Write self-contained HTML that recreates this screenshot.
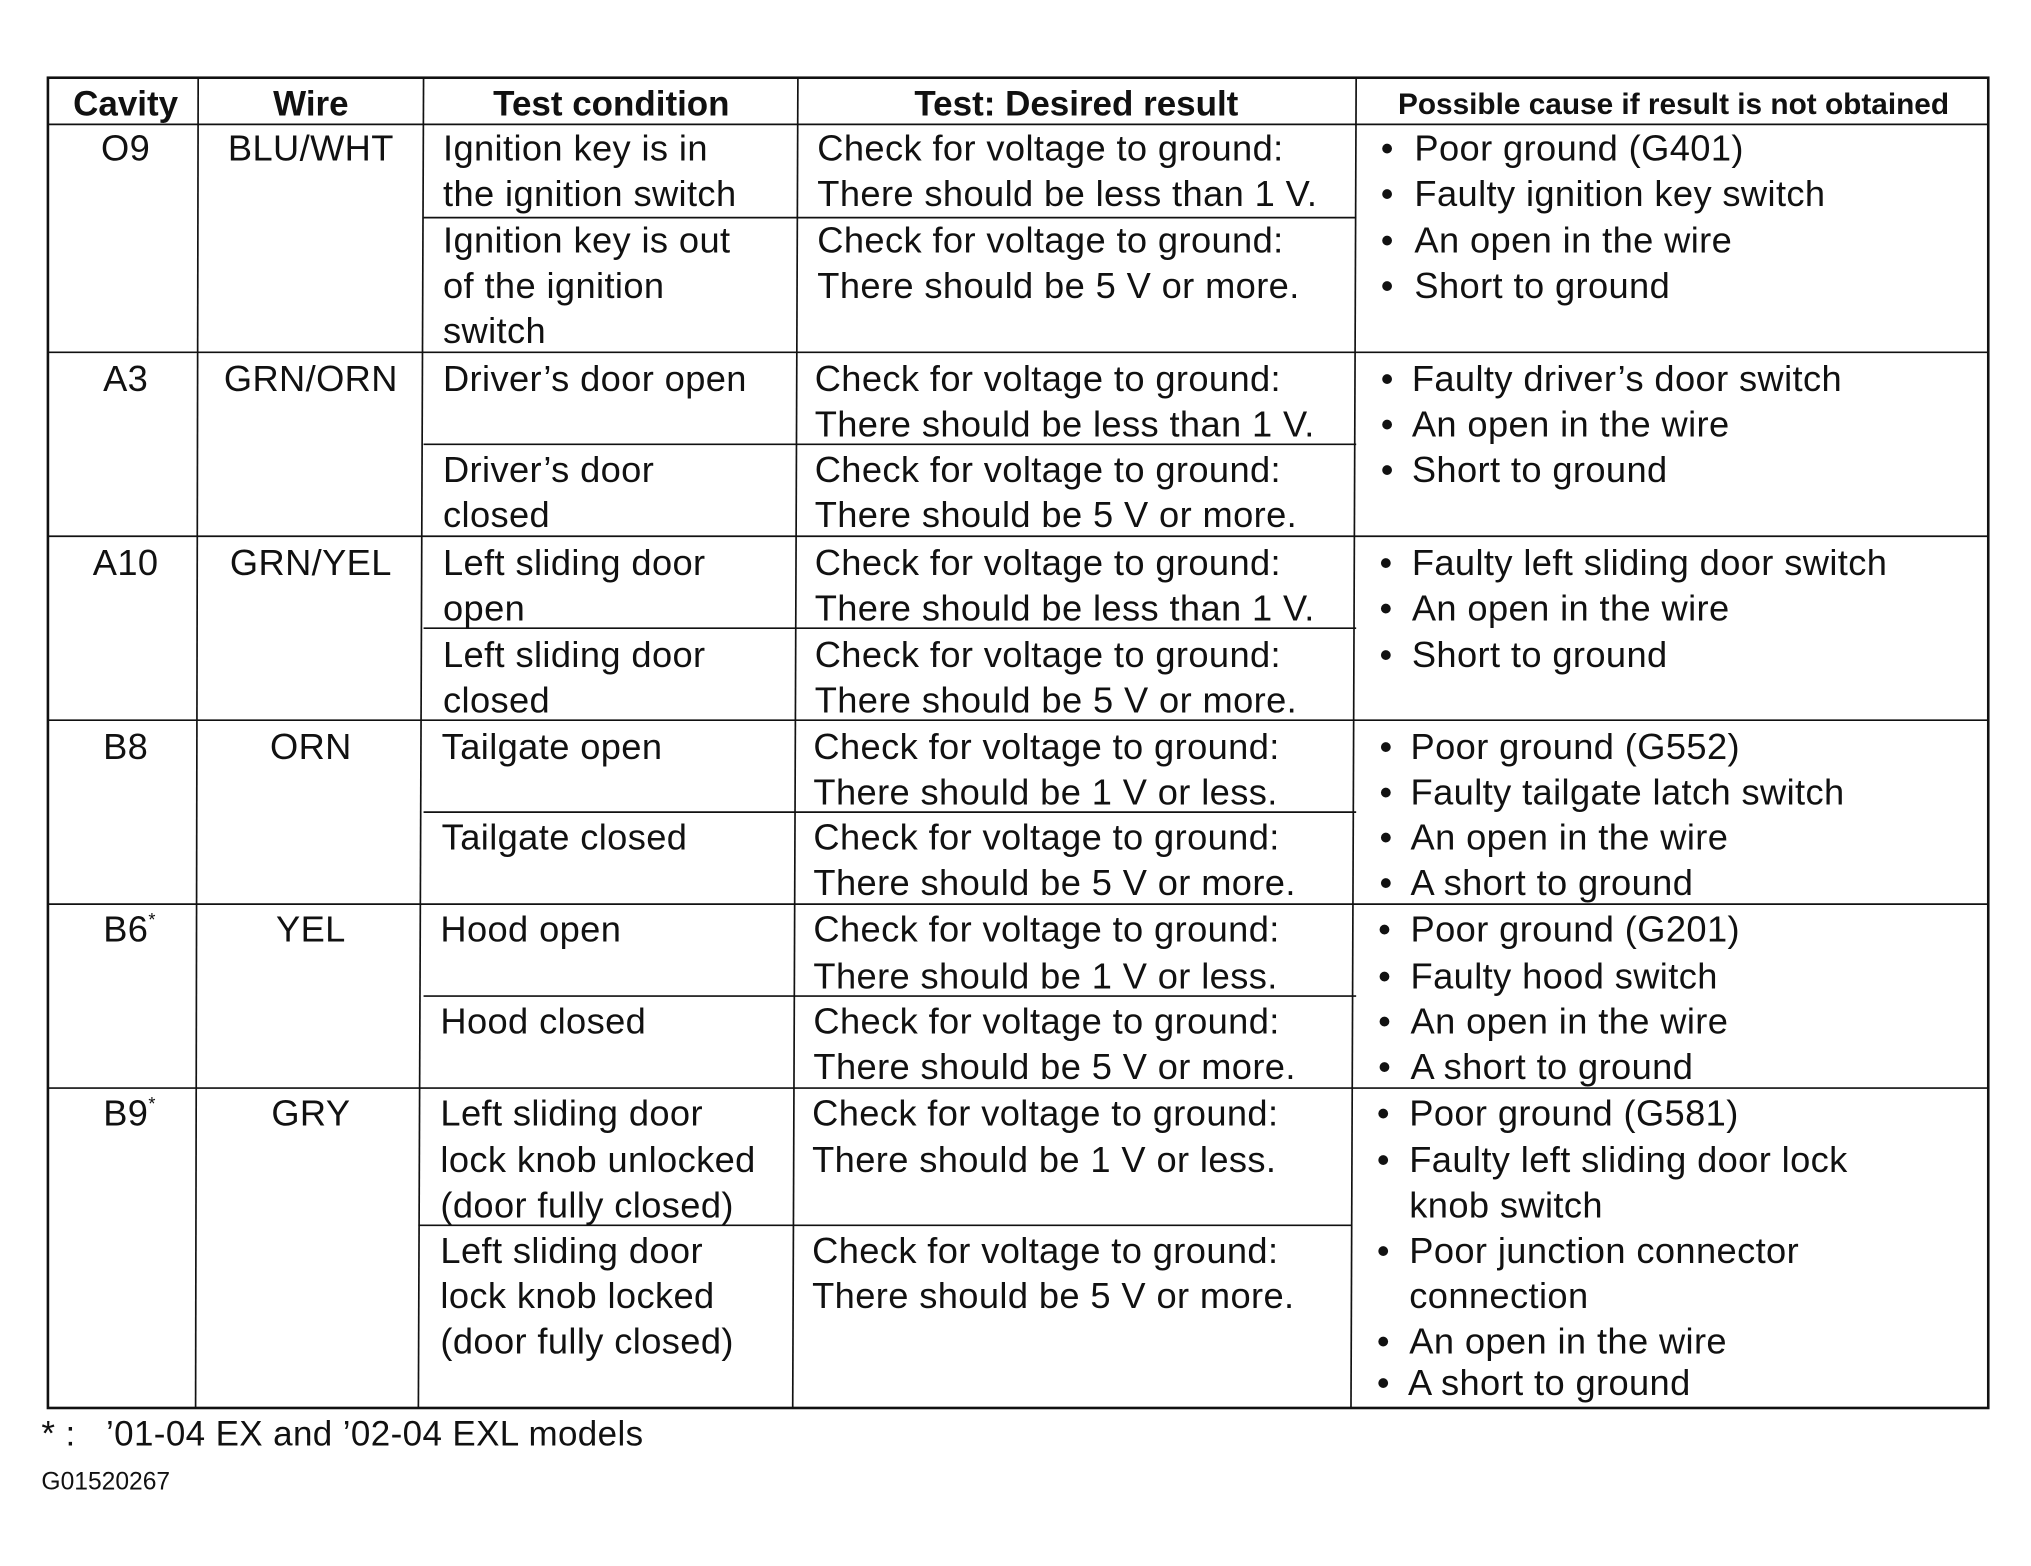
<!DOCTYPE html>
<html><head><meta charset="utf-8"><style>
html,body{margin:0;padding:0;background:#fff;width:2031px;height:1566px;overflow:hidden}
svg{display:block}
text{font-family:"Liberation Sans",sans-serif;fill:#111;font-size:28px;letter-spacing:0.3px}
.h{font-weight:bold;font-size:27px;letter-spacing:0}
.c{text-anchor:middle}
</style></head><body>
<svg width="2031" height="1566" viewBox="0 0 1568 1209" preserveAspectRatio="none">
<g stroke="#111" fill="none">
<rect x="37" y="60" width="1498" height="1027" stroke-width="2"/>
<g stroke-width="1.3">
<line x1="153" y1="60" x2="151" y2="1087"/>
<line x1="327" y1="60" x2="323" y2="1087"/>
<line x1="616" y1="60" x2="612" y2="1087"/>
<line x1="1047" y1="60" x2="1043" y2="1087"/>
<line x1="37" y1="96" x2="1535" y2="96"/>
<line x1="37" y1="272" x2="1535" y2="272"/>
<line x1="37" y1="414" x2="1535" y2="414"/>
<line x1="37" y1="556" x2="1535" y2="556"/>
<line x1="37" y1="698" x2="1535" y2="698"/>
<line x1="37" y1="840" x2="1535" y2="840"/>
<line x1="327" y1="168" x2="1047" y2="168"/>
<line x1="327" y1="343" x2="1047" y2="343"/>
<line x1="327" y1="485" x2="1047" y2="485"/>
<line x1="327" y1="627" x2="1047" y2="627"/>
<line x1="327" y1="769" x2="1047" y2="769"/>
<line x1="323" y1="946" x2="1043" y2="946"/>
</g></g>
<text class="h c" x="97" y="89">Cavity</text>
<text class="h c" x="240" y="89">Wire</text>
<text class="h c" x="472" y="89">Test condition</text>
<text class="h c" x="831" y="89">Test: Desired result</text>
<text class="h c" x="1292" y="88" style="font-size:23px">Possible cause if result is not obtained</text>

<g>
<text class="c" x="97" y="124">O9</text><text class="c" x="240" y="124">BLU/WHT</text>
<text class="c" x="97" y="302">A3</text><text class="c" x="240" y="302">GRN/ORN</text>
<text class="c" x="97" y="444">A10</text><text class="c" x="240" y="444">GRN/YEL</text>
<text class="c" x="97" y="586">B8</text><text class="c" x="240" y="586">ORN</text>
<text class="c" x="100" y="727">B6<tspan font-size="14" dy="-12">*</tspan></text><text class="c" x="240" y="727">YEL</text>
<text class="c" x="100" y="869">B9<tspan font-size="14" dy="-12">*</tspan></text><text class="c" x="240" y="869">GRY</text>
</g>

<g>
<text x="342" y="124">Ignition key is in</text>
<text x="342" y="159">the ignition switch</text>
<text x="342" y="195">Ignition key is out</text>
<text x="342" y="230">of the ignition</text>
<text x="342" y="265">switch</text>
<text x="342" y="302">Driver’s door open</text>
<text x="342" y="372">Driver’s door</text>
<text x="342" y="407">closed</text>
<text x="342" y="444">Left sliding door</text>
<text x="342" y="479">open</text>
<text x="342" y="515">Left sliding door</text>
<text x="342" y="550">closed</text>
<text x="341" y="586">Tailgate open</text>
<text x="341" y="656">Tailgate closed</text>
<text x="340" y="727">Hood open</text>
<text x="340" y="798">Hood closed</text>
<text x="340" y="869">Left sliding door</text>
<text x="340" y="905">lock knob unlocked</text>
<text x="340" y="940">(door fully closed)</text>
<text x="340" y="975">Left sliding door</text>
<text x="340" y="1010">lock knob locked</text>
<text x="340" y="1045">(door fully closed)</text>
</g>

<g>
<text x="631" y="124">Check for voltage to ground:</text>
<text x="631" y="159">There should be less than 1 V.</text>
<text x="631" y="195">Check for voltage to ground:</text>
<text x="631" y="230">There should be 5 V or more.</text>
<text x="629" y="302">Check for voltage to ground:</text>
<text x="629" y="337">There should be less than 1 V.</text>
<text x="629" y="372">Check for voltage to ground:</text>
<text x="629" y="407">There should be 5 V or more.</text>
<text x="629" y="444">Check for voltage to ground:</text>
<text x="629" y="479">There should be less than 1 V.</text>
<text x="629" y="515">Check for voltage to ground:</text>
<text x="629" y="550">There should be 5 V or more.</text>
<text x="628" y="586">Check for voltage to ground:</text>
<text x="628" y="621">There should be 1 V or less.</text>
<text x="628" y="656">Check for voltage to ground:</text>
<text x="628" y="691">There should be 5 V or more.</text>
<text x="628" y="727">Check for voltage to ground:</text>
<text x="628" y="763">There should be 1 V or less.</text>
<text x="628" y="798">Check for voltage to ground:</text>
<text x="628" y="833">There should be 5 V or more.</text>
<text x="627" y="869">Check for voltage to ground:</text>
<text x="627" y="905">There should be 1 V or less.</text>
<text x="627" y="975">Check for voltage to ground:</text>
<text x="627" y="1010">There should be 5 V or more.</text>
</g>

<g>
<text x="1066" y="124">•</text><text x="1092" y="124">Poor ground (G401)</text>
<text x="1066" y="159">•</text><text x="1092" y="159">Faulty ignition key switch</text>
<text x="1066" y="195">•</text><text x="1092" y="195">An open in the wire</text>
<text x="1066" y="230">•</text><text x="1092" y="230">Short to ground</text>
<text x="1066" y="302">•</text><text x="1090" y="302">Faulty driver’s door switch</text>
<text x="1066" y="337">•</text><text x="1090" y="337">An open in the wire</text>
<text x="1066" y="372">•</text><text x="1090" y="372">Short to ground</text>
<text x="1065" y="444">•</text><text x="1090" y="444">Faulty left sliding door switch</text>
<text x="1065" y="479">•</text><text x="1090" y="479">An open in the wire</text>
<text x="1065" y="515">•</text><text x="1090" y="515">Short to ground</text>
<text x="1065" y="586">•</text><text x="1089" y="586">Poor ground (G552)</text>
<text x="1065" y="621">•</text><text x="1089" y="621">Faulty tailgate latch switch</text>
<text x="1065" y="656">•</text><text x="1089" y="656">An open in the wire</text>
<text x="1065" y="691">•</text><text x="1089" y="691">A short to ground</text>
<text x="1064" y="727">•</text><text x="1089" y="727">Poor ground (G201)</text>
<text x="1064" y="763">•</text><text x="1089" y="763">Faulty hood switch</text>
<text x="1064" y="798">•</text><text x="1089" y="798">An open in the wire</text>
<text x="1064" y="833">•</text><text x="1089" y="833">A short to ground</text>
<text x="1063" y="869">•</text><text x="1088" y="869">Poor ground (G581)</text>
<text x="1063" y="905">•</text><text x="1088" y="905">Faulty left sliding door lock</text>
<text x="1088" y="940">knob switch</text>
<text x="1063" y="975">•</text><text x="1088" y="975">Poor junction connector</text>
<text x="1088" y="1010">connection</text>
<text x="1063" y="1045">•</text><text x="1088" y="1045">An open in the wire</text>
<text x="1063" y="1077">•</text><text x="1087" y="1077">A short to ground</text>
</g>

<text x="32" y="1116" style="font-size:27px;white-space:pre" xml:space="preserve">* :   ’01-04 EX and ’02-04 EXL models</text>
<text x="32" y="1150" style="font-size:19px;letter-spacing:0">G01520267</text>
</svg>
</body></html>
